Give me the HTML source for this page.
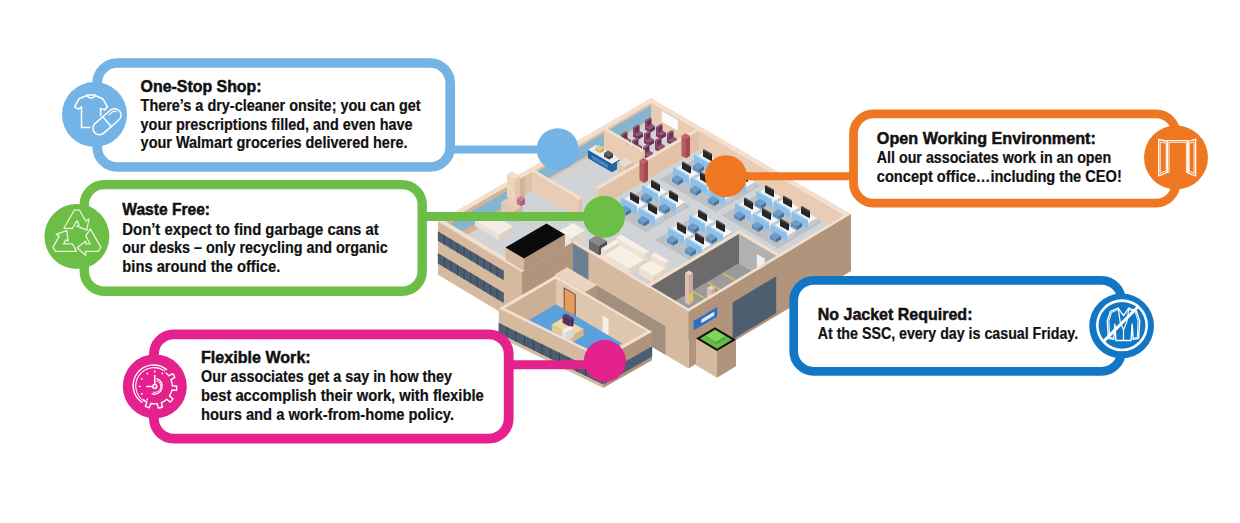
<!DOCTYPE html>
<html><head><meta charset="utf-8">
<style>
html,body{margin:0;padding:0;background:#fff;width:1240px;height:523px;overflow:hidden}
svg{position:absolute;left:0;top:0}
text{font-family:"Liberation Sans",sans-serif;font-weight:bold;fill:#111}
.t{font-size:17px;stroke:#111;stroke-width:0.5px}
.b{font-size:15.6px;stroke:#111;stroke-width:0.2px}
</style></head><body>
<svg width="1240" height="523" viewBox="0 0 1240 523">
<g id="building">
<polygon points="651.0,117.0 851.0,233.0 688.5,330.5 488.5,211.2" fill="#d1d4d6"/>
<polygon points="521.0,192.4 605.0,242.2 522.0,291.0 438.0,240.5" fill="#d1d4d6"/>
<polygon points="651.0,102.6 525.0,175.8 525.0,194.8 651.0,121.6" fill="#e2c2a7"/>
<polygon points="651.0,105.5 607.0,131.0 607.0,144.3 651.0,118.8" fill="#86b5cf"/>
<polygon points="604.0,132.8 533.0,174.0 533.0,187.3 604.0,146.1" fill="#86b5cf"/>
<polygon points="525.0,175.8 442.0,223.9 442.0,249.6 525.0,201.4" fill="#d5b397"/>
<polygon points="513.0,187.5 447.0,225.8 447.0,240.0 513.0,201.7" fill="#86b5cf"/>
<polygon points="651.0,102.6 847.0,216.4 847.0,235.4 651.0,121.6" fill="#e9ccb3"/>
<polygon points="661.8,111.0 677.8,120.3 677.8,130.8 661.8,121.5" fill="#fbfbfb"/>
<polygon points="651.0,98.0 655.0,100.3 523.0,176.9 519.0,174.6" fill="#f3dfcc"/>
<polygon points="521.0,173.4 525.0,175.8 442.0,223.9 438.0,221.5" fill="#f3dfcc"/>
<polygon points="651.0,98.0 851.0,214.0 847.0,216.4 647.0,100.3" fill="#f3dfcc"/>
<polygon points="655.0,126.0 650.0,128.9 650.0,132.7 655.0,129.8" fill="#6a2f52"/>
<polygon points="645.0,126.0 650.0,128.9 650.0,132.7 645.0,129.8" fill="#7d3a62"/>
<polygon points="650.0,123.1 655.0,126.0 650.0,128.9 645.0,126.0" fill="#93506f"/>
<polygon points="651.5,118.2 646.5,121.1 646.5,126.8 651.5,123.9" fill="#6a2f52"/>
<polygon points="645.0,120.3 646.5,121.1 646.5,126.8 645.0,126.0" fill="#7d3a62"/>
<polygon points="650.0,117.4 651.5,118.2 646.5,121.1 645.0,120.3" fill="#93506f"/>
<polygon points="643.0,132.9 638.0,135.9 638.0,139.7 643.0,136.7" fill="#6a2f52"/>
<polygon points="633.0,132.9 638.0,135.9 638.0,139.7 633.0,136.7" fill="#7d3a62"/>
<polygon points="638.0,130.0 643.0,132.9 638.0,135.9 633.0,132.9" fill="#93506f"/>
<polygon points="639.5,125.2 634.5,128.1 634.5,133.8 639.5,130.9" fill="#6a2f52"/>
<polygon points="633.0,127.2 634.5,128.1 634.5,133.8 633.0,132.9" fill="#7d3a62"/>
<polygon points="638.0,124.3 639.5,125.2 634.5,128.1 633.0,127.2" fill="#93506f"/>
<polygon points="631.0,139.9 626.0,142.8 626.0,146.6 631.0,143.7" fill="#6a2f52"/>
<polygon points="621.0,139.9 626.0,142.8 626.0,146.6 621.0,143.7" fill="#7d3a62"/>
<polygon points="626.0,137.0 631.0,139.9 626.0,142.8 621.0,139.9" fill="#93506f"/>
<polygon points="627.5,132.2 622.5,135.1 622.5,140.8 627.5,137.9" fill="#6a2f52"/>
<polygon points="621.0,134.2 622.5,135.1 622.5,140.8 621.0,139.9" fill="#7d3a62"/>
<polygon points="626.0,131.3 627.5,132.2 622.5,135.1 621.0,134.2" fill="#93506f"/>
<polygon points="666.0,132.4 661.0,135.3 661.0,139.1 666.0,136.2" fill="#6a2f52"/>
<polygon points="656.0,132.4 661.0,135.3 661.0,139.1 656.0,136.2" fill="#7d3a62"/>
<polygon points="661.0,129.5 666.0,132.4 661.0,135.3 656.0,132.4" fill="#93506f"/>
<polygon points="662.5,124.6 657.5,127.5 657.5,133.2 662.5,130.3" fill="#6a2f52"/>
<polygon points="656.0,126.7 657.5,127.5 657.5,133.2 656.0,132.4" fill="#7d3a62"/>
<polygon points="661.0,123.8 662.5,124.6 657.5,127.5 656.0,126.7" fill="#93506f"/>
<polygon points="654.0,139.4 649.0,142.3 649.0,146.1 654.0,143.2" fill="#6a2f52"/>
<polygon points="644.0,139.3 649.0,142.3 649.0,146.1 644.0,143.1" fill="#7d3a62"/>
<polygon points="649.0,136.4 654.0,139.4 649.0,142.3 644.0,139.3" fill="#93506f"/>
<polygon points="650.5,131.6 645.5,134.5 645.5,140.2 650.5,137.3" fill="#6a2f52"/>
<polygon points="644.0,133.6 645.5,134.5 645.5,140.2 644.0,139.3" fill="#7d3a62"/>
<polygon points="649.0,130.7 650.5,131.6 645.5,134.5 644.0,133.6" fill="#93506f"/>
<polygon points="642.0,146.3 637.0,149.3 637.0,153.1 642.0,150.1" fill="#6a2f52"/>
<polygon points="632.0,146.3 637.0,149.3 637.0,153.1 632.0,150.1" fill="#7d3a62"/>
<polygon points="637.0,143.4 642.0,146.3 637.0,149.3 632.0,146.3" fill="#93506f"/>
<polygon points="638.5,138.6 633.5,141.5 633.5,147.2 638.5,144.3" fill="#6a2f52"/>
<polygon points="632.0,140.6 633.5,141.5 633.5,147.2 632.0,146.3" fill="#7d3a62"/>
<polygon points="637.0,137.7 638.5,138.6 633.5,141.5 632.0,140.6" fill="#93506f"/>
<polygon points="677.0,138.8 672.0,141.7 672.0,145.5 677.0,142.6" fill="#6a2f52"/>
<polygon points="667.0,138.8 672.0,141.7 672.0,145.5 667.0,142.6" fill="#7d3a62"/>
<polygon points="672.0,135.8 677.0,138.8 672.0,141.7 667.0,138.8" fill="#93506f"/>
<polygon points="673.5,131.0 668.5,133.9 668.5,139.6 673.5,136.7" fill="#6a2f52"/>
<polygon points="667.0,133.1 668.5,133.9 668.5,139.6 667.0,138.8" fill="#7d3a62"/>
<polygon points="672.0,130.1 673.5,131.0 668.5,133.9 667.0,133.1" fill="#93506f"/>
<polygon points="665.0,145.8 660.0,148.7 660.0,152.5 665.0,149.6" fill="#6a2f52"/>
<polygon points="655.0,145.8 660.0,148.7 660.0,152.5 655.0,149.6" fill="#7d3a62"/>
<polygon points="660.0,142.8 665.0,145.8 660.0,148.7 655.0,145.8" fill="#93506f"/>
<polygon points="661.5,138.0 656.5,140.9 656.5,146.6 661.5,143.7" fill="#6a2f52"/>
<polygon points="655.0,140.1 656.5,140.9 656.5,146.6 655.0,145.8" fill="#7d3a62"/>
<polygon points="660.0,137.1 661.5,138.0 656.5,140.9 655.0,140.1" fill="#93506f"/>
<polygon points="653.0,152.8 648.0,155.7 648.0,159.5 653.0,156.6" fill="#6a2f52"/>
<polygon points="643.0,152.8 648.0,155.7 648.0,159.5 643.0,156.6" fill="#7d3a62"/>
<polygon points="648.0,149.8 653.0,152.8 648.0,155.7 643.0,152.8" fill="#93506f"/>
<polygon points="649.5,145.0 644.5,147.9 644.5,153.6 649.5,150.7" fill="#6a2f52"/>
<polygon points="643.0,147.1 644.5,147.9 644.5,153.6 643.0,152.8" fill="#7d3a62"/>
<polygon points="648.0,144.1 649.5,145.0 644.5,147.9 643.0,147.1" fill="#93506f"/>
<polygon points="645.0,150.4 642.0,152.2 642.0,171.2 645.0,169.4" fill="#e2c2a7"/>
<polygon points="604.0,129.9 642.0,152.2 642.0,171.2 604.0,148.9" fill="#e9ccb3"/>
<polygon points="607.0,128.2 645.0,150.4 642.0,152.2 604.0,129.9" fill="#f3dfcc"/>
<polygon points="620.0,159.1 612.0,163.7 612.0,172.3 620.0,167.6" fill="#2a63a3"/>
<polygon points="588.0,149.7 612.0,163.7 612.0,172.3 588.0,158.2" fill="#23609f"/>
<polygon points="596.0,145.0 620.0,159.1 612.0,163.7 588.0,149.7" fill="#e9eef2"/>
<polygon points="596.0,145.0 620.0,159.1 617.0,160.8 593.0,146.8" fill="#f5f0e6"/>
<polygon points="604.0,148.0 600.0,150.3 600.0,153.2 604.0,150.9" fill="#c9a66b"/>
<polygon points="595.0,147.4 600.0,150.3 600.0,153.2 595.0,150.3" fill="#d8b77c"/>
<polygon points="599.0,145.1 604.0,148.0 600.0,150.3 595.0,147.4" fill="#e8c98f"/>
<polygon points="613.0,153.5 609.0,155.8 609.0,159.6 613.0,157.3" fill="#3a3a3a"/>
<polygon points="604.0,152.9 609.0,155.8 609.0,159.6 604.0,156.7" fill="#4a4a4a"/>
<polygon points="608.0,150.6 613.0,153.5 609.0,155.8 604.0,152.9" fill="#5a5a5a"/>
<polygon points="591.8,155.0 607.8,164.4 607.8,168.2 591.8,158.8" fill="#4d86c4"/>
<polygon points="633.0,162.2 625.0,166.9 625.0,176.4 633.0,171.7" fill="#c9b9a8"/>
<polygon points="617.0,162.2 625.0,166.9 625.0,176.4 617.0,171.7" fill="#dccab7"/>
<polygon points="625.0,157.5 633.0,162.2 625.0,166.9 617.0,162.2" fill="#e8dccd"/>
<polygon points="699.0,130.5 598.0,189.6 598.0,208.6 699.0,149.5" fill="#e2c2a7"/>
<polygon points="595.0,187.8 598.0,189.6 598.0,208.6 595.0,206.8" fill="#e9ccb3"/>
<polygon points="696.0,128.8 699.0,130.5 598.0,189.6 595.0,187.8" fill="#f3dfcc"/>
<polygon points="690.0,136.0 686.0,138.3 686.0,158.3 690.0,155.9" fill="#a24a4e"/>
<polygon points="681.5,135.7 686.0,138.3 686.0,158.3 681.5,155.7" fill="#b95b5e"/>
<polygon points="685.5,133.4 690.0,136.0 686.0,138.3 681.5,135.7" fill="#c05f62"/>
<polygon points="648.0,160.6 644.0,162.9 644.0,182.9 648.0,180.5" fill="#a24a4e"/>
<polygon points="639.5,160.3 644.0,162.9 644.0,182.9 639.5,180.2" fill="#b95b5e"/>
<polygon points="643.5,157.9 648.0,160.6 644.0,162.9 639.5,160.3" fill="#c05f62"/>
<polygon points="582.0,197.8 579.0,199.5 579.0,218.5 582.0,216.8" fill="#e2c2a7"/>
<polygon points="532.0,171.7 579.0,199.5 579.0,218.5 532.0,190.7" fill="#e9ccb3"/>
<polygon points="535.0,170.0 582.0,197.8 579.0,199.5 532.0,171.7" fill="#f3dfcc"/>
<polygon points="520.0,176.0 515.0,179.0 515.0,201.8 520.0,198.8" fill="#e3c5ab"/>
<polygon points="507.0,174.2 515.0,179.0 515.0,201.8 507.0,197.0" fill="#efd4bd"/>
<polygon points="512.0,171.3 520.0,176.0 515.0,179.0 507.0,174.2" fill="#f1ddc9"/>
<polygon points="523.0,205.7 515.0,210.3 515.0,221.7 523.0,217.1" fill="#d4b69b"/>
<polygon points="501.0,202.0 515.0,210.3 515.0,221.7 501.0,213.4" fill="#e2c6ad"/>
<polygon points="509.0,197.4 523.0,205.7 515.0,210.3 501.0,202.0" fill="#e6cdb6"/>
<polygon points="525.0,198.4 521.0,200.7 521.0,206.4 525.0,204.1" fill="#b05f7f"/>
<polygon points="517.0,198.3 521.0,200.7 521.0,206.4 517.0,204.0" fill="#c06a8a"/>
<polygon points="521.0,196.0 525.0,198.4 521.0,200.7 517.0,198.3" fill="#d07a98"/>
<polygon points="513.0,226.6 499.0,234.8 499.0,240.5 513.0,232.3" fill="#e0d0bf"/>
<polygon points="475.0,220.4 499.0,234.8 499.0,240.5 475.0,226.1" fill="#ece0d2"/>
<polygon points="489.0,212.3 513.0,226.6 499.0,234.8 475.0,220.4" fill="#f6eee4"/>
<polygon points="704.0,153.6 760.0,186.1 716.0,212.1 660.0,179.3" fill="#bcc1c6"/>
<polygon points="719.0,161.0 710.0,166.3 710.0,171.1 719.0,165.8" fill="#c3cad0"/>
<polygon points="695.0,157.6 710.0,166.3 710.0,171.1 695.0,162.3" fill="#dde2e6"/>
<polygon points="704.0,152.3 719.0,161.0 710.0,166.3 695.0,157.6" fill="#f3f5f6"/>
<polygon points="712.0,153.8 711.0,154.4 711.0,161.1 712.0,160.5" fill="#1b1b1b"/>
<polygon points="703.0,149.8 711.0,154.4 711.0,161.1 703.0,156.4" fill="#262626"/>
<polygon points="704.0,149.2 712.0,153.8 711.0,154.4 703.0,149.8" fill="#3a3a3a"/>
<polygon points="710.0,162.5 709.0,163.1 709.0,171.7 710.0,171.1" fill="#92c0e4"/>
<polygon points="694.0,154.4 709.0,163.1 709.0,171.7 694.0,162.9" fill="#8cc0ea"/>
<polygon points="695.0,153.8 710.0,162.5 709.0,163.1 694.0,154.4" fill="#b8daf2"/>
<polygon points="704.0,166.1 699.0,169.1 699.0,172.9 704.0,169.9" fill="#47739c"/>
<polygon points="693.0,165.6 699.0,169.1 699.0,172.9 693.0,169.4" fill="#5f90c2"/>
<polygon points="698.0,162.6 704.0,166.1 699.0,169.1 693.0,165.6" fill="#6f9cc6"/>
<polygon points="737.0,171.5 728.0,176.8 728.0,181.5 737.0,176.2" fill="#c3cad0"/>
<polygon points="713.0,168.1 728.0,176.8 728.0,181.5 713.0,172.8" fill="#dde2e6"/>
<polygon points="722.0,162.8 737.0,171.5 728.0,176.8 713.0,168.1" fill="#f3f5f6"/>
<polygon points="730.0,164.3 729.0,164.9 729.0,171.5 730.0,170.9" fill="#1b1b1b"/>
<polygon points="721.0,160.2 729.0,164.9 729.0,171.5 721.0,166.9" fill="#262626"/>
<polygon points="722.0,159.6 730.0,164.3 729.0,164.9 721.0,160.2" fill="#3a3a3a"/>
<polygon points="728.0,173.0 727.0,173.6 727.0,182.1 728.0,181.5" fill="#92c0e4"/>
<polygon points="712.0,164.9 727.0,173.6 727.0,182.1 712.0,173.4" fill="#8cc0ea"/>
<polygon points="713.0,164.3 728.0,173.0 727.0,173.6 712.0,164.9" fill="#b8daf2"/>
<polygon points="722.0,176.6 717.0,179.5 717.0,183.3 722.0,180.4" fill="#47739c"/>
<polygon points="711.0,176.0 717.0,179.5 717.0,183.3 711.0,179.8" fill="#5f90c2"/>
<polygon points="716.0,173.1 722.0,176.6 717.0,179.5 711.0,176.0" fill="#6f9cc6"/>
<polygon points="755.0,181.9 746.0,187.3 746.0,192.0 755.0,186.7" fill="#c3cad0"/>
<polygon points="731.0,178.5 746.0,187.3 746.0,192.0 731.0,183.3" fill="#dde2e6"/>
<polygon points="740.0,173.2 755.0,181.9 746.0,187.3 731.0,178.5" fill="#f3f5f6"/>
<polygon points="748.0,174.7 747.0,175.3 747.0,182.0 748.0,181.4" fill="#1b1b1b"/>
<polygon points="739.0,170.7 747.0,175.3 747.0,182.0 739.0,177.3" fill="#262626"/>
<polygon points="740.0,170.1 748.0,174.7 747.0,175.3 739.0,170.7" fill="#3a3a3a"/>
<polygon points="746.0,183.5 745.0,184.1 745.0,192.6 746.0,192.0" fill="#92c0e4"/>
<polygon points="730.0,175.3 745.0,184.1 745.0,192.6 730.0,183.9" fill="#8cc0ea"/>
<polygon points="731.0,174.7 746.0,183.5 745.0,184.1 730.0,175.3" fill="#b8daf2"/>
<polygon points="740.0,187.1 735.0,190.0 735.0,193.8 740.0,190.9" fill="#47739c"/>
<polygon points="729.0,186.5 735.0,190.0 735.0,193.8 729.0,190.3" fill="#5f90c2"/>
<polygon points="734.0,183.6 740.0,187.1 735.0,190.0 729.0,186.5" fill="#6f9cc6"/>
<polygon points="698.0,173.4 689.0,178.7 689.0,183.4 698.0,178.1" fill="#c3cad0"/>
<polygon points="674.0,169.9 689.0,178.7 689.0,183.4 674.0,174.7" fill="#dde2e6"/>
<polygon points="683.0,164.6 698.0,173.4 689.0,178.7 674.0,169.9" fill="#f3f5f6"/>
<polygon points="691.0,166.2 690.0,166.7 690.0,173.4 691.0,172.8" fill="#1b1b1b"/>
<polygon points="682.0,162.1 690.0,166.7 690.0,173.4 682.0,168.7" fill="#262626"/>
<polygon points="683.0,161.5 691.0,166.2 690.0,166.7 682.0,162.1" fill="#3a3a3a"/>
<polygon points="689.0,174.9 688.0,175.4 688.0,184.0 689.0,183.4" fill="#92c0e4"/>
<polygon points="673.0,166.7 688.0,175.4 688.0,184.0 673.0,175.2" fill="#8cc0ea"/>
<polygon points="674.0,166.1 689.0,174.9 688.0,175.4 673.0,166.7" fill="#b8daf2"/>
<polygon points="683.0,178.4 678.0,181.4 678.0,185.2 683.0,182.2" fill="#47739c"/>
<polygon points="672.0,177.9 678.0,181.4 678.0,185.2 672.0,181.7" fill="#5f90c2"/>
<polygon points="677.0,174.9 683.0,178.4 678.0,181.4 672.0,177.9" fill="#6f9cc6"/>
<polygon points="716.0,183.9 707.0,189.2 707.0,193.9 716.0,188.6" fill="#c3cad0"/>
<polygon points="692.0,180.4 707.0,189.2 707.0,193.9 692.0,185.2" fill="#dde2e6"/>
<polygon points="701.0,175.1 716.0,183.9 707.0,189.2 692.0,180.4" fill="#f3f5f6"/>
<polygon points="709.0,176.6 708.0,177.2 708.0,183.9 709.0,183.3" fill="#1b1b1b"/>
<polygon points="700.0,172.6 708.0,177.2 708.0,183.9 700.0,179.2" fill="#262626"/>
<polygon points="701.0,172.0 709.0,176.6 708.0,177.2 700.0,172.6" fill="#3a3a3a"/>
<polygon points="707.0,185.4 706.0,186.0 706.0,194.5 707.0,193.9" fill="#92c0e4"/>
<polygon points="691.0,177.2 706.0,186.0 706.0,194.5 691.0,185.7" fill="#8cc0ea"/>
<polygon points="692.0,176.6 707.0,185.4 706.0,186.0 691.0,177.2" fill="#b8daf2"/>
<polygon points="701.0,189.0 696.0,191.9 696.0,195.7 701.0,192.8" fill="#47739c"/>
<polygon points="690.0,188.4 696.0,191.9 696.0,195.7 690.0,192.2" fill="#5f90c2"/>
<polygon points="695.0,185.5 701.0,189.0 696.0,191.9 690.0,188.4" fill="#6f9cc6"/>
<polygon points="734.0,194.4 725.0,199.7 725.0,204.4 734.0,199.1" fill="#c3cad0"/>
<polygon points="710.0,190.9 725.0,199.7 725.0,204.4 710.0,195.7" fill="#dde2e6"/>
<polygon points="719.0,185.6 734.0,194.4 725.0,199.7 710.0,190.9" fill="#f3f5f6"/>
<polygon points="727.0,187.1 726.0,187.7 726.0,194.4 727.0,193.8" fill="#1b1b1b"/>
<polygon points="718.0,183.1 726.0,187.7 726.0,194.4 718.0,189.7" fill="#262626"/>
<polygon points="719.0,182.5 727.0,187.1 726.0,187.7 718.0,183.1" fill="#3a3a3a"/>
<polygon points="725.0,195.9 724.0,196.5 724.0,205.0 725.0,204.4" fill="#92c0e4"/>
<polygon points="709.0,187.7 724.0,196.5 724.0,205.0 709.0,196.3" fill="#8cc0ea"/>
<polygon points="710.0,187.1 725.0,195.9 724.0,196.5 709.0,187.7" fill="#b8daf2"/>
<polygon points="719.0,199.5 714.0,202.4 714.0,206.2 719.0,203.3" fill="#47739c"/>
<polygon points="708.0,198.9 714.0,202.4 714.0,206.2 708.0,202.7" fill="#5f90c2"/>
<polygon points="713.0,196.0 719.0,199.5 714.0,202.4 708.0,198.9" fill="#6f9cc6"/>
<polygon points="766.0,189.6 822.0,222.1 778.0,248.4 722.0,215.6" fill="#bcc1c6"/>
<polygon points="781.0,197.0 772.0,202.4 772.0,207.1 781.0,201.8" fill="#c3cad0"/>
<polygon points="757.0,193.7 772.0,202.4 772.0,207.1 757.0,198.4" fill="#dde2e6"/>
<polygon points="766.0,188.3 781.0,197.0 772.0,202.4 757.0,193.7" fill="#f3f5f6"/>
<polygon points="774.0,189.8 773.0,190.4 773.0,197.1 774.0,196.5" fill="#1b1b1b"/>
<polygon points="765.0,185.8 773.0,190.4 773.0,197.1 765.0,192.4" fill="#262626"/>
<polygon points="766.0,185.2 774.0,189.8 773.0,190.4 765.0,185.8" fill="#3a3a3a"/>
<polygon points="772.0,198.6 771.0,199.2 771.0,207.7 772.0,207.1" fill="#92c0e4"/>
<polygon points="756.0,190.5 771.0,199.2 771.0,207.7 756.0,199.0" fill="#8cc0ea"/>
<polygon points="757.0,189.9 772.0,198.6 771.0,199.2 756.0,190.5" fill="#b8daf2"/>
<polygon points="766.0,202.2 761.0,205.2 761.0,209.0 766.0,206.0" fill="#47739c"/>
<polygon points="755.0,201.7 761.0,205.2 761.0,209.0 755.0,205.5" fill="#5f90c2"/>
<polygon points="760.0,198.7 766.0,202.2 761.0,205.2 755.0,201.7" fill="#6f9cc6"/>
<polygon points="799.0,207.5 790.0,212.9 790.0,217.6 799.0,212.2" fill="#c3cad0"/>
<polygon points="775.0,204.1 790.0,212.9 790.0,217.6 775.0,208.9" fill="#dde2e6"/>
<polygon points="784.0,198.8 799.0,207.5 790.0,212.9 775.0,204.1" fill="#f3f5f6"/>
<polygon points="792.0,200.3 791.0,200.9 791.0,207.6 792.0,207.0" fill="#1b1b1b"/>
<polygon points="783.0,196.3 791.0,200.9 791.0,207.6 783.0,202.9" fill="#262626"/>
<polygon points="784.0,195.7 792.0,200.3 791.0,200.9 783.0,196.3" fill="#3a3a3a"/>
<polygon points="790.0,209.1 789.0,209.7 789.0,218.2 790.0,217.6" fill="#92c0e4"/>
<polygon points="774.0,200.9 789.0,209.7 789.0,218.2 774.0,209.5" fill="#8cc0ea"/>
<polygon points="775.0,200.3 790.0,209.1 789.0,209.7 774.0,200.9" fill="#b8daf2"/>
<polygon points="784.0,212.7 779.0,215.6 779.0,219.4 784.0,216.5" fill="#47739c"/>
<polygon points="773.0,212.2 779.0,215.6 779.0,219.4 773.0,216.0" fill="#5f90c2"/>
<polygon points="778.0,209.2 784.0,212.7 779.0,215.6 773.0,212.2" fill="#6f9cc6"/>
<polygon points="817.0,217.9 808.0,223.3 808.0,228.1 817.0,222.7" fill="#c3cad0"/>
<polygon points="793.0,214.6 808.0,223.3 808.0,228.1 793.0,219.4" fill="#dde2e6"/>
<polygon points="802.0,209.2 817.0,217.9 808.0,223.3 793.0,214.6" fill="#f3f5f6"/>
<polygon points="810.0,210.8 809.0,211.4 809.0,218.0 810.0,217.4" fill="#1b1b1b"/>
<polygon points="801.0,206.7 809.0,211.4 809.0,218.0 801.0,213.4" fill="#262626"/>
<polygon points="802.0,206.1 810.0,210.8 809.0,211.4 801.0,206.7" fill="#3a3a3a"/>
<polygon points="808.0,219.5 807.0,220.1 807.0,228.7 808.0,228.1" fill="#92c0e4"/>
<polygon points="792.0,211.4 807.0,220.1 807.0,228.7 792.0,219.9" fill="#8cc0ea"/>
<polygon points="793.0,210.8 808.0,219.5 807.0,220.1 792.0,211.4" fill="#b8daf2"/>
<polygon points="802.0,223.1 797.0,226.1 797.0,229.9 802.0,226.9" fill="#47739c"/>
<polygon points="791.0,222.6 797.0,226.1 797.0,229.9 791.0,226.4" fill="#5f90c2"/>
<polygon points="796.0,219.7 802.0,223.1 797.0,226.1 791.0,222.6" fill="#6f9cc6"/>
<polygon points="760.0,209.5 751.0,214.9 751.0,219.6 760.0,214.3" fill="#c3cad0"/>
<polygon points="736.0,206.1 751.0,214.9 751.0,219.6 736.0,210.8" fill="#dde2e6"/>
<polygon points="745.0,200.8 760.0,209.5 751.0,214.9 736.0,206.1" fill="#f3f5f6"/>
<polygon points="753.0,202.3 752.0,202.9 752.0,209.6 753.0,209.0" fill="#1b1b1b"/>
<polygon points="744.0,198.2 752.0,202.9 752.0,209.6 744.0,204.9" fill="#262626"/>
<polygon points="745.0,197.6 753.0,202.3 752.0,202.9 744.0,198.2" fill="#3a3a3a"/>
<polygon points="751.0,211.1 750.0,211.6 750.0,220.2 751.0,219.6" fill="#92c0e4"/>
<polygon points="735.0,202.9 750.0,211.6 750.0,220.2 735.0,211.4" fill="#8cc0ea"/>
<polygon points="736.0,202.3 751.0,211.1 750.0,211.6 735.0,202.9" fill="#b8daf2"/>
<polygon points="745.0,214.7 740.0,217.6 740.0,221.4 745.0,218.5" fill="#47739c"/>
<polygon points="734.0,214.1 740.0,217.6 740.0,221.4 734.0,217.9" fill="#5f90c2"/>
<polygon points="739.0,211.2 745.0,214.7 740.0,217.6 734.0,214.1" fill="#6f9cc6"/>
<polygon points="778.0,220.0 769.0,225.4 769.0,230.1 778.0,224.8" fill="#c3cad0"/>
<polygon points="754.0,216.6 769.0,225.4 769.0,230.1 754.0,221.4" fill="#dde2e6"/>
<polygon points="763.0,211.3 778.0,220.0 769.0,225.4 754.0,216.6" fill="#f3f5f6"/>
<polygon points="771.0,212.8 770.0,213.4 770.0,220.1 771.0,219.5" fill="#1b1b1b"/>
<polygon points="762.0,208.7 770.0,213.4 770.0,220.1 762.0,215.4" fill="#262626"/>
<polygon points="763.0,208.1 771.0,212.8 770.0,213.4 762.0,208.7" fill="#3a3a3a"/>
<polygon points="769.0,221.6 768.0,222.2 768.0,230.7 769.0,230.1" fill="#92c0e4"/>
<polygon points="753.0,213.4 768.0,222.2 768.0,230.7 753.0,221.9" fill="#8cc0ea"/>
<polygon points="754.0,212.8 769.0,221.6 768.0,222.2 753.0,213.4" fill="#b8daf2"/>
<polygon points="763.0,225.2 758.0,228.1 758.0,231.9 763.0,229.0" fill="#47739c"/>
<polygon points="752.0,224.6 758.0,228.1 758.0,231.9 752.0,228.4" fill="#5f90c2"/>
<polygon points="757.0,221.7 763.0,225.2 758.0,228.1 752.0,224.6" fill="#6f9cc6"/>
<polygon points="796.0,230.5 787.0,235.9 787.0,240.6 796.0,235.2" fill="#c3cad0"/>
<polygon points="772.0,227.1 787.0,235.9 787.0,240.6 772.0,231.9" fill="#dde2e6"/>
<polygon points="781.0,221.8 796.0,230.5 787.0,235.9 772.0,227.1" fill="#f3f5f6"/>
<polygon points="789.0,223.3 788.0,223.9 788.0,230.6 789.0,230.0" fill="#1b1b1b"/>
<polygon points="780.0,219.2 788.0,223.9 788.0,230.6 780.0,225.9" fill="#262626"/>
<polygon points="781.0,218.6 789.0,223.3 788.0,223.9 780.0,219.2" fill="#3a3a3a"/>
<polygon points="787.0,232.1 786.0,232.7 786.0,241.2 787.0,240.6" fill="#92c0e4"/>
<polygon points="771.0,223.9 786.0,232.7 786.0,241.2 771.0,232.5" fill="#8cc0ea"/>
<polygon points="772.0,223.3 787.0,232.1 786.0,232.7 771.0,223.9" fill="#b8daf2"/>
<polygon points="781.0,235.7 776.0,238.7 776.0,242.5 781.0,239.5" fill="#47739c"/>
<polygon points="770.0,235.2 776.0,238.7 776.0,242.5 770.0,239.0" fill="#5f90c2"/>
<polygon points="775.0,232.2 781.0,235.7 776.0,238.7 770.0,235.2" fill="#6f9cc6"/>
<polygon points="652.0,184.0 690.0,206.3 646.0,232.2 608.0,209.8" fill="#bcc1c6"/>
<polygon points="667.0,191.6 658.0,196.9 658.0,201.6 667.0,196.3" fill="#c3cad0"/>
<polygon points="643.0,188.1 658.0,196.9 658.0,201.6 643.0,192.8" fill="#dde2e6"/>
<polygon points="652.0,182.8 667.0,191.6 658.0,196.9 643.0,188.1" fill="#f3f5f6"/>
<polygon points="660.0,184.4 659.0,184.9 659.0,191.6 660.0,191.0" fill="#1b1b1b"/>
<polygon points="651.0,180.2 659.0,184.9 659.0,191.6 651.0,186.9" fill="#262626"/>
<polygon points="652.0,179.7 660.0,184.4 659.0,184.9 651.0,180.2" fill="#3a3a3a"/>
<polygon points="658.0,193.1 657.0,193.7 657.0,202.2 658.0,201.6" fill="#92c0e4"/>
<polygon points="642.0,184.9 657.0,193.7 657.0,202.2 642.0,193.4" fill="#8cc0ea"/>
<polygon points="643.0,184.3 658.0,193.1 657.0,193.7 642.0,184.9" fill="#b8daf2"/>
<polygon points="652.0,196.7 647.0,199.6 647.0,203.4 652.0,200.5" fill="#47739c"/>
<polygon points="641.0,196.1 647.0,199.6 647.0,203.4 641.0,199.9" fill="#5f90c2"/>
<polygon points="646.0,193.1 652.0,196.7 647.0,199.6 641.0,196.1" fill="#6f9cc6"/>
<polygon points="685.0,202.1 676.0,207.4 676.0,212.2 685.0,206.9" fill="#c3cad0"/>
<polygon points="661.0,198.6 676.0,207.4 676.0,212.2 661.0,203.4" fill="#dde2e6"/>
<polygon points="670.0,193.3 685.0,202.1 676.0,207.4 661.0,198.6" fill="#f3f5f6"/>
<polygon points="678.0,194.9 677.0,195.5 677.0,202.1 678.0,201.6" fill="#1b1b1b"/>
<polygon points="669.0,190.8 677.0,195.5 677.0,202.1 669.0,197.5" fill="#262626"/>
<polygon points="670.0,190.2 678.0,194.9 677.0,195.5 669.0,190.8" fill="#3a3a3a"/>
<polygon points="676.0,203.6 675.0,204.2 675.0,212.8 676.0,212.2" fill="#92c0e4"/>
<polygon points="660.0,195.4 675.0,204.2 675.0,212.8 660.0,204.0" fill="#8cc0ea"/>
<polygon points="661.0,194.8 676.0,203.6 675.0,204.2 660.0,195.4" fill="#b8daf2"/>
<polygon points="670.0,207.2 665.0,210.2 665.0,214.0 670.0,211.0" fill="#47739c"/>
<polygon points="659.0,206.6 665.0,210.2 665.0,214.0 659.0,210.4" fill="#5f90c2"/>
<polygon points="664.0,203.7 670.0,207.2 665.0,210.2 659.0,206.6" fill="#6f9cc6"/>
<polygon points="646.0,203.9 637.0,209.2 637.0,214.0 646.0,208.7" fill="#c3cad0"/>
<polygon points="622.0,200.4 637.0,209.2 637.0,214.0 622.0,205.1" fill="#dde2e6"/>
<polygon points="631.0,195.1 646.0,203.9 637.0,209.2 622.0,200.4" fill="#f3f5f6"/>
<polygon points="639.0,196.7 638.0,197.3 638.0,203.9 639.0,203.3" fill="#1b1b1b"/>
<polygon points="630.0,192.6 638.0,197.3 638.0,203.9 630.0,199.2" fill="#262626"/>
<polygon points="631.0,192.0 639.0,196.7 638.0,197.3 630.0,192.6" fill="#3a3a3a"/>
<polygon points="637.0,205.4 636.0,206.0 636.0,214.6 637.0,214.0" fill="#92c0e4"/>
<polygon points="621.0,197.2 636.0,206.0 636.0,214.6 621.0,205.7" fill="#8cc0ea"/>
<polygon points="622.0,196.6 637.0,205.4 636.0,206.0 621.0,197.2" fill="#b8daf2"/>
<polygon points="631.0,209.0 626.0,211.9 626.0,215.7 631.0,212.8" fill="#47739c"/>
<polygon points="620.0,208.4 626.0,211.9 626.0,215.7 620.0,212.2" fill="#5f90c2"/>
<polygon points="625.0,205.4 631.0,209.0 626.0,211.9 620.0,208.4" fill="#6f9cc6"/>
<polygon points="664.0,214.5 655.0,219.8 655.0,224.6 664.0,219.3" fill="#c3cad0"/>
<polygon points="640.0,211.0 655.0,219.8 655.0,224.6 640.0,215.7" fill="#dde2e6"/>
<polygon points="649.0,205.7 664.0,214.5 655.0,219.8 640.0,211.0" fill="#f3f5f6"/>
<polygon points="657.0,207.3 656.0,207.9 656.0,214.5 657.0,213.9" fill="#1b1b1b"/>
<polygon points="648.0,203.2 656.0,207.9 656.0,214.5 648.0,209.8" fill="#262626"/>
<polygon points="649.0,202.6 657.0,207.3 656.0,207.9 648.0,203.2" fill="#3a3a3a"/>
<polygon points="655.0,216.0 654.0,216.6 654.0,225.2 655.0,224.6" fill="#92c0e4"/>
<polygon points="639.0,207.8 654.0,216.6 654.0,225.2 639.0,216.3" fill="#8cc0ea"/>
<polygon points="640.0,207.2 655.0,216.0 654.0,216.6 639.0,207.8" fill="#b8daf2"/>
<polygon points="649.0,219.6 644.0,222.5 644.0,226.3 649.0,223.4" fill="#47739c"/>
<polygon points="638.0,219.0 644.0,222.5 644.0,226.3 638.0,222.8" fill="#5f90c2"/>
<polygon points="643.0,216.1 649.0,219.6 644.0,222.5 638.0,219.0" fill="#6f9cc6"/>
<polygon points="699.0,213.9 737.0,236.2 693.0,262.3 655.0,239.9" fill="#bcc1c6"/>
<polygon points="714.0,221.5 705.0,226.8 705.0,231.6 714.0,226.2" fill="#c3cad0"/>
<polygon points="690.0,218.0 705.0,226.8 705.0,231.6 690.0,222.8" fill="#dde2e6"/>
<polygon points="699.0,212.7 714.0,221.5 705.0,226.8 690.0,218.0" fill="#f3f5f6"/>
<polygon points="707.0,214.3 706.0,214.9 706.0,221.5 707.0,220.9" fill="#1b1b1b"/>
<polygon points="698.0,210.2 706.0,214.9 706.0,221.5 698.0,216.8" fill="#262626"/>
<polygon points="699.0,209.6 707.0,214.3 706.0,214.9 698.0,210.2" fill="#3a3a3a"/>
<polygon points="705.0,223.0 704.0,223.6 704.0,232.2 705.0,231.6" fill="#92c0e4"/>
<polygon points="689.0,214.8 704.0,223.6 704.0,232.2 689.0,223.4" fill="#8cc0ea"/>
<polygon points="690.0,214.2 705.0,223.0 704.0,223.6 689.0,214.8" fill="#b8daf2"/>
<polygon points="699.0,226.6 694.0,229.6 694.0,233.4 699.0,230.4" fill="#47739c"/>
<polygon points="688.0,226.0 694.0,229.6 694.0,233.4 688.0,229.8" fill="#5f90c2"/>
<polygon points="693.0,223.1 699.0,226.6 694.0,229.6 688.0,226.0" fill="#6f9cc6"/>
<polygon points="732.0,232.0 723.0,237.4 723.0,242.1 732.0,236.8" fill="#c3cad0"/>
<polygon points="708.0,228.6 723.0,237.4 723.0,242.1 708.0,233.3" fill="#dde2e6"/>
<polygon points="717.0,223.2 732.0,232.0 723.0,237.4 708.0,228.6" fill="#f3f5f6"/>
<polygon points="725.0,224.8 724.0,225.4 724.0,232.1 725.0,231.5" fill="#1b1b1b"/>
<polygon points="716.0,220.7 724.0,225.4 724.0,232.1 716.0,227.4" fill="#262626"/>
<polygon points="717.0,220.1 725.0,224.8 724.0,225.4 716.0,220.7" fill="#3a3a3a"/>
<polygon points="723.0,233.6 722.0,234.2 722.0,242.7 723.0,242.1" fill="#92c0e4"/>
<polygon points="707.0,225.4 722.0,234.2 722.0,242.7 707.0,233.9" fill="#8cc0ea"/>
<polygon points="708.0,224.8 723.0,233.6 722.0,234.2 707.0,225.4" fill="#b8daf2"/>
<polygon points="717.0,237.2 712.0,240.1 712.0,243.9 717.0,241.0" fill="#47739c"/>
<polygon points="706.0,236.6 712.0,240.1 712.0,243.9 706.0,240.4" fill="#5f90c2"/>
<polygon points="711.0,233.7 717.0,237.2 712.0,240.1 706.0,236.6" fill="#6f9cc6"/>
<polygon points="693.0,233.9 684.0,239.3 684.0,244.0 693.0,238.7" fill="#c3cad0"/>
<polygon points="669.0,230.4 684.0,239.3 684.0,244.0 669.0,235.2" fill="#dde2e6"/>
<polygon points="678.0,225.1 693.0,233.9 684.0,239.3 669.0,230.4" fill="#f3f5f6"/>
<polygon points="686.0,226.7 685.0,227.3 685.0,233.9 686.0,233.4" fill="#1b1b1b"/>
<polygon points="677.0,222.6 685.0,227.3 685.0,233.9 677.0,229.2" fill="#262626"/>
<polygon points="678.0,222.0 686.0,226.7 685.0,227.3 677.0,222.6" fill="#3a3a3a"/>
<polygon points="684.0,235.5 683.0,236.1 683.0,244.6 684.0,244.0" fill="#92c0e4"/>
<polygon points="668.0,227.2 683.0,236.1 683.0,244.6 668.0,235.8" fill="#8cc0ea"/>
<polygon points="669.0,226.6 684.0,235.5 683.0,236.1 668.0,227.2" fill="#b8daf2"/>
<polygon points="678.0,239.0 673.0,242.0 673.0,245.8 678.0,242.8" fill="#47739c"/>
<polygon points="667.0,238.5 673.0,242.0 673.0,245.8 667.0,242.3" fill="#5f90c2"/>
<polygon points="672.0,235.5 678.0,239.0 673.0,242.0 667.0,238.5" fill="#6f9cc6"/>
<polygon points="711.0,244.5 702.0,249.9 702.0,254.6 711.0,249.3" fill="#c3cad0"/>
<polygon points="687.0,241.0 702.0,249.9 702.0,254.6 687.0,245.8" fill="#dde2e6"/>
<polygon points="696.0,235.7 711.0,244.5 702.0,249.9 687.0,241.0" fill="#f3f5f6"/>
<polygon points="704.0,237.3 703.0,237.9 703.0,244.5 704.0,243.9" fill="#1b1b1b"/>
<polygon points="695.0,233.2 703.0,237.9 703.0,244.5 695.0,239.8" fill="#262626"/>
<polygon points="696.0,232.6 704.0,237.3 703.0,237.9 695.0,233.2" fill="#3a3a3a"/>
<polygon points="702.0,246.1 701.0,246.7 701.0,255.2 702.0,254.6" fill="#92c0e4"/>
<polygon points="686.0,237.8 701.0,246.7 701.0,255.2 686.0,246.4" fill="#8cc0ea"/>
<polygon points="687.0,237.2 702.0,246.1 701.0,246.7 686.0,237.8" fill="#b8daf2"/>
<polygon points="696.0,249.6 691.0,252.6 691.0,256.4 696.0,253.4" fill="#47739c"/>
<polygon points="685.0,249.1 691.0,252.6 691.0,256.4 685.0,252.9" fill="#5f90c2"/>
<polygon points="690.0,246.1 696.0,249.6 691.0,252.6 685.0,249.1" fill="#6f9cc6"/>
<polygon points="607.0,241.0 599.0,245.7 599.0,255.2 607.0,250.5" fill="#4e4b4a"/>
<polygon points="589.0,239.8 599.0,245.7 599.0,255.2 589.0,249.3" fill="#6d6a69"/>
<polygon points="597.0,235.1 607.0,241.0 599.0,245.7 589.0,239.8" fill="#8a8786"/>
<polygon points="649.0,256.9 629.0,268.8 629.0,275.4 649.0,263.6" fill="#e3d4c3"/>
<polygon points="601.0,252.1 629.0,268.8 629.0,275.4 601.0,258.8" fill="#eee1d2"/>
<polygon points="621.0,240.3 649.0,256.9 629.0,268.8 601.0,252.1" fill="#f7f0e6"/>
<polygon points="649.0,251.2 644.0,254.2 644.0,259.9 649.0,256.9" fill="#e3d4c3"/>
<polygon points="616.0,237.6 644.0,254.2 644.0,259.9 616.0,243.3" fill="#eee1d2"/>
<polygon points="621.0,234.6 649.0,251.2 644.0,254.2 616.0,237.6" fill="#f7f0e6"/>
<polygon points="620.0,241.8 605.0,250.7 605.0,254.5 620.0,245.6" fill="#e3d4c3"/>
<polygon points="601.0,248.3 605.0,250.7 605.0,254.5 601.0,252.1" fill="#eee1d2"/>
<polygon points="616.0,239.5 620.0,241.8 605.0,250.7 601.0,248.3" fill="#f7f0e6"/>
<polygon points="669.0,266.4 653.0,275.9 653.0,282.5 669.0,273.0" fill="#e3d4c3"/>
<polygon points="639.0,267.6 653.0,275.9 653.0,282.5 639.0,274.2" fill="#eee1d2"/>
<polygon points="655.0,258.1 669.0,266.4 653.0,275.9 639.0,267.6" fill="#f7f0e6"/>
<polygon points="669.0,260.7 665.0,263.1 665.0,268.8 669.0,266.4" fill="#e3d4c3"/>
<polygon points="651.0,254.8 665.0,263.1 665.0,268.8 651.0,260.5" fill="#eee1d2"/>
<polygon points="655.0,252.4 669.0,260.7 665.0,263.1 651.0,254.8" fill="#f7f0e6"/>
<polygon points="585.0,230.2 571.0,238.5 571.0,257.5 585.0,249.2" fill="#ddd2c6"/>
<polygon points="559.0,231.3 571.0,238.5 571.0,257.5 559.0,250.3" fill="#eee5db"/>
<polygon points="573.0,223.1 585.0,230.2 571.0,238.5 559.0,231.3" fill="#f6f0ea"/>
<polygon points="739.0,263.2 779.0,286.6 688.5,340.9 648.5,317.1" fill="#9b9b9b"/>
<polygon points="739.0,233.7 648.5,287.6 648.5,317.1 739.0,263.2" fill="#6b6b6b"/>
<polygon points="739.0,233.7 779.0,257.2 779.0,286.6 739.0,263.2" fill="#b3b1b0"/>
<polygon points="756.8,253.9 764.8,258.6 764.8,274.7 756.8,270.1" fill="#f0f0ee"/>
<polygon points="724.0,273.3 743.0,284.5 741.6,285.3 722.6,274.1" fill="#d8c650"/>
<polygon points="709.0,282.2 728.0,293.4 726.6,294.3 707.6,283.1" fill="#d8c650"/>
<polygon points="694.0,291.2 713.0,302.4 711.6,303.3 692.6,292.0" fill="#d8c650"/>
<polygon points="693.0,273.0 689.0,275.4 689.0,304.9 693.0,302.5" fill="#c8aaa0"/>
<polygon points="685.0,273.0 689.0,275.4 689.0,304.9 685.0,302.5" fill="#dcbdb2"/>
<polygon points="689.0,270.6 693.0,273.0 689.0,275.4 685.0,273.0" fill="#ecd3c8"/>
<polygon points="693.1,292.1 689.1,294.5 689.1,303.0 693.1,300.6" fill="#e9c64a"/>
<polygon points="715.0,287.9 711.0,290.3 711.0,298.9 715.0,296.5" fill="#c8aaa0"/>
<polygon points="707.0,287.9 711.0,290.3 711.0,298.9 707.0,296.5" fill="#dcbdb2"/>
<polygon points="711.0,285.5 715.0,287.9 711.0,290.3 707.0,287.9" fill="#ecd3c8"/>
<polygon points="736.0,232.0 739.0,233.7 648.5,287.6 645.5,285.9" fill="#f3dfcc"/>
<polygon points="739.0,230.2 782.0,255.4 779.0,257.2 736.0,232.0" fill="#f3dfcc"/>
<polygon points="851.0,214.0 688.5,311.5 688.5,368.5 851.0,271.0" fill="#b0957c"/>
<polygon points="572.5,242.3 688.5,311.5 688.5,368.5 572.5,299.3" fill="#d6baa0"/>
<polygon points="572.4,243.3 588.4,252.9 588.4,308.9 572.4,299.4" fill="#6b7f93"/>
<polygon points="848.5,212.6 851.0,214.0 688.5,311.5 686.0,310.0" fill="#f3dfcc"/>
<polygon points="575.0,240.9 691.0,310.0 688.5,311.5 572.5,242.3" fill="#f3dfcc"/>
<polygon points="588.4,280.4 665.4,326.3 665.4,354.8 588.4,308.9" fill="#a2907e"/>
<polygon points="776.2,276.2 732.6,302.4 732.6,339.4 776.2,313.3" fill="#4d5e6f"/>
<polygon points="717.2,306.9 693.6,321.0 693.6,330.5 717.2,316.4" fill="#2a6fc4"/>
<polygon points="714.3,311.6 701.3,319.4 701.3,323.2 714.3,315.4" fill="#dfe8f5"/>
<polygon points="572.5,242.3 522.0,272.0 522.0,325.2 572.5,295.5" fill="#b0957c"/>
<polygon points="438.0,221.5 522.0,272.0 522.0,325.2 438.0,274.7" fill="#d6baa0"/>
<polygon points="437.8,231.2 503.8,270.8 503.8,280.3 437.8,240.7" fill="#4b5d70"/>
<polygon points="437.8,253.0 503.8,292.7 503.8,303.1 437.8,263.5" fill="#4b5d70"/>
<polygon points="443.9,234.9 444.7,235.4 444.7,244.9 443.9,244.4" fill="#34404c"/>
<polygon points="443.9,256.8 444.7,257.3 444.7,267.7 443.9,267.2" fill="#34404c"/>
<polygon points="450.5,238.9 451.3,239.4 451.3,248.9 450.5,248.4" fill="#34404c"/>
<polygon points="450.5,260.8 451.3,261.2 451.3,271.7 450.5,271.2" fill="#34404c"/>
<polygon points="457.1,242.9 457.9,243.4 457.9,252.9 457.1,252.4" fill="#34404c"/>
<polygon points="457.1,264.7 457.9,265.2 457.9,275.7 457.1,275.2" fill="#34404c"/>
<polygon points="463.7,246.8 464.5,247.3 464.5,256.8 463.7,256.3" fill="#34404c"/>
<polygon points="463.7,268.7 464.5,269.2 464.5,279.6 463.7,279.1" fill="#34404c"/>
<polygon points="470.3,250.8 471.1,251.3 471.1,260.8 470.3,260.3" fill="#34404c"/>
<polygon points="470.3,272.7 471.1,273.1 471.1,283.6 470.3,283.1" fill="#34404c"/>
<polygon points="476.9,254.8 477.7,255.3 477.7,264.8 476.9,264.3" fill="#34404c"/>
<polygon points="476.9,276.6 477.7,277.1 477.7,287.6 476.9,287.1" fill="#34404c"/>
<polygon points="483.5,258.8 484.3,259.2 484.3,268.7 483.5,268.3" fill="#34404c"/>
<polygon points="483.5,280.6 484.3,281.1 484.3,291.5 483.5,291.1" fill="#34404c"/>
<polygon points="490.1,262.7 490.9,263.2 490.9,272.7 490.1,272.2" fill="#34404c"/>
<polygon points="490.1,284.6 490.9,285.1 490.9,295.5 490.1,295.0" fill="#34404c"/>
<polygon points="496.7,266.7 497.5,267.2 497.5,276.7 496.7,276.2" fill="#34404c"/>
<polygon points="496.7,288.5 497.5,289.0 497.5,299.5 496.7,299.0" fill="#34404c"/>
<polygon points="442.0,219.2 526.0,269.7 522.0,272.0 438.0,221.5" fill="#f3dfcc"/>
<polygon points="565.0,234.4 524.0,258.5 524.0,270.9 565.0,246.7" fill="#b0957c"/>
<polygon points="505.5,247.4 524.0,258.5 524.0,270.9 505.5,259.8" fill="#d6baa0"/>
<polygon points="546.5,223.4 565.0,234.4 524.0,258.5 505.5,247.4" fill="#0b0b0b"/>
<polygon points="597.0,285.1 585.0,292.2 585.0,321.6 597.0,314.5" fill="#b0957c"/>
<polygon points="555.0,274.3 585.0,292.2 585.0,321.6 555.0,303.7" fill="#d6baa0"/>
<polygon points="567.0,267.2 597.0,285.1 585.0,292.2 555.0,274.3" fill="#ead5c1"/>
<polygon points="556.0,304.3 646.4,357.2 602.6,382.2 505.0,333.9" fill="#5aa0dc"/>
<polygon points="622.6,343.2 646.4,357.2 602.6,382.2 576.8,369.5" fill="#d9c0a7"/>
<polygon points="556.0,278.7 505.0,308.2 505.0,333.9 556.0,304.3" fill="#ccb096"/>
<polygon points="556.0,278.7 646.4,331.5 646.4,357.2 556.0,304.3" fill="#dfc7ae"/>
<polygon points="563.7,287.2 575.7,294.2 575.7,316.1 563.7,309.1" fill="#7b3c48"/>
<polygon points="564.6,288.8 574.6,294.6 574.6,315.5 564.6,309.7" fill="#e39f58"/>
<polygon points="602.5,315.6 608.5,319.1 608.5,335.2 602.5,331.7" fill="#f4efe6"/>
<polygon points="583.6,329.0 572.4,335.5 572.4,342.2 583.6,335.7" fill="#d5b585"/>
<polygon points="551.7,324.4 572.4,335.5 572.4,342.2 551.7,331.1" fill="#e4c895"/>
<polygon points="563.3,317.7 583.6,329.0 572.4,335.5 551.7,324.4" fill="#f0d7a3"/>
<polygon points="573.6,318.0 570.8,319.6 570.8,327.2 573.6,325.6" fill="#45284f"/>
<polygon points="562.6,315.2 570.8,319.6 570.8,327.2 562.6,322.8" fill="#55305f"/>
<polygon points="565.5,313.5 573.6,318.0 570.8,319.6 562.6,315.2" fill="#5d3a67"/>
<polygon points="573.9,328.1 566.4,332.5 566.4,341.0 573.9,336.7" fill="#d8d8d8"/>
<polygon points="562.2,330.3 566.4,332.5 566.4,341.0 562.2,338.8" fill="#e6e6e6"/>
<polygon points="569.8,325.9 573.9,328.1 566.4,332.5 562.2,330.3" fill="#f2f2f2"/>
<polygon points="652.0,331.8 603.2,359.6 603.2,388.1 652.0,360.3" fill="#b0957c"/>
<polygon points="498.8,308.4 603.2,359.6 603.2,388.1 498.8,336.9" fill="#d6baa0"/>
<polygon points="498.6,322.8 603.0,373.9 603.0,384.4 498.6,333.2" fill="#4b5d70"/>
<polygon points="652.2,346.2 603.4,374.0 603.4,384.4 652.2,356.6" fill="#4b5d70"/>
<polygon points="506.8,326.9 507.6,327.3 507.6,337.8 506.8,337.3" fill="#34404c"/>
<polygon points="515.5,331.1 516.3,331.6 516.3,342.0 515.5,341.6" fill="#34404c"/>
<polygon points="524.2,335.4 525.0,335.8 525.0,346.3 524.2,345.9" fill="#34404c"/>
<polygon points="532.9,339.7 533.7,340.1 533.7,350.5 532.9,350.1" fill="#34404c"/>
<polygon points="541.6,343.9 542.4,344.4 542.4,354.8 541.6,354.4" fill="#34404c"/>
<polygon points="550.3,348.2 551.2,348.6 551.2,359.1 550.3,358.6" fill="#34404c"/>
<polygon points="559.0,352.5 559.9,352.9 559.9,363.3 559.0,362.9" fill="#34404c"/>
<polygon points="567.7,356.7 568.6,357.2 568.6,367.6 567.7,367.2" fill="#34404c"/>
<polygon points="576.4,361.0 577.3,361.4 577.3,371.9 576.4,371.4" fill="#34404c"/>
<polygon points="585.1,365.3 586.0,365.7 586.0,376.1 585.1,375.7" fill="#34404c"/>
<polygon points="593.8,369.5 594.7,369.9 594.7,380.4 593.8,380.0" fill="#34404c"/>
<polygon points="556.0,275.2 652.0,331.8 649.4,333.3 553.0,276.9" fill="#f3dfcc"/>
<polygon points="649.0,330.0 652.0,331.8 603.2,359.6 600.0,358.0" fill="#f3dfcc"/>
<polygon points="501.8,306.7 605.8,358.1 603.2,359.6 498.8,308.4" fill="#f3dfcc"/>
<polygon points="556.0,275.2 559.0,277.0 502.0,310.0 498.8,308.4" fill="#f3dfcc"/>
<polygon points="736.0,339.7 717.0,351.1 717.0,377.7 736.0,366.3" fill="#b0957c"/>
<polygon points="696.0,338.6 717.0,351.1 717.0,377.7 696.0,365.2" fill="#d6baa0"/>
<polygon points="715.0,327.2 736.0,339.7 717.0,351.1 696.0,338.6" fill="#111111"/>
<polygon points="715.0,329.6 732.0,339.7 717.0,348.7 700.0,338.6" fill="#66bd45"/>
<polygon points="725.0,336.3 716.0,341.7 716.0,344.5 725.0,339.1" fill="#4fa53a"/>
<polygon points="706.0,335.7 716.0,341.7 716.0,344.5 706.0,338.6" fill="#5fb545"/>
<polygon points="715.0,330.3 725.0,336.3 716.0,341.7 706.0,335.7" fill="#82d45c"/>
</g>
<!-- connectors -->
<g id="boxes">
 <!-- blue -->
 <rect x="97.2" y="63" width="353" height="104" rx="20" fill="#fff" stroke="#74b3e5" stroke-width="9.7"/>
 <path d="M450 149.6 H557" stroke="#74b3e5" stroke-width="8"/>
 <circle cx="557.6" cy="149.2" r="21" fill="#74b3e5"/>
 <circle cx="94.5" cy="114.5" r="32.5" fill="#74b3e5"/>
 <!-- green -->
 <rect x="84.3" y="184.6" width="337.9" height="106.6" rx="20" fill="#fff" stroke="#6dbe46" stroke-width="9.4"/>
 <path d="M422 216.5 H604" stroke="#6dbe46" stroke-width="9"/>
 <circle cx="604" cy="216.8" r="21" fill="#6dbe46"/>
 <circle cx="76.9" cy="236.4" r="32.5" fill="#6dbe46"/>
 <!-- pink -->
 <rect x="153.9" y="334.3" width="354.8" height="104.3" rx="20" fill="#fff" stroke="#e4218d" stroke-width="9.8"/>
 <path d="M508 364.8 H604" stroke="#e4218d" stroke-width="9"/>
 <circle cx="604.9" cy="360.8" r="21" fill="#e4218d"/>
 <circle cx="154.8" cy="386.4" r="32" fill="#e4218d"/>
 <!-- orange -->
 <rect x="853.5" y="113.9" width="322.5" height="89.2" rx="20" fill="#fff" stroke="#ef7722" stroke-width="8.8"/>
 <path d="M726 176.3 H853" stroke="#ef7722" stroke-width="8"/>
 <circle cx="725.9" cy="176.2" r="21" fill="#ef7722"/>
 <circle cx="1176" cy="157.5" r="32" fill="#ef7722"/>
 <!-- dark blue -->
 <rect x="793.7" y="280.4" width="327.8" height="90.9" rx="20" fill="#fff" stroke="#1177c4" stroke-width="8.7"/>
 <circle cx="1121.6" cy="326" r="32.4" fill="#1177c4"/>
</g>
<g id="icons" fill="none" stroke="#fff" stroke-linejoin="round" stroke-linecap="round">
 <g transform="translate(94.5,114.5)" stroke-width="1.5">
  <path d="M-7.6,-18.5 Q-3.4,-14.5 0.8,-18.5 M-7.6,-19.5 L0.8,-19.5" stroke-width="1.3"/>
  <path d="M-7.6,-19 L-15.3,-16 L-19.9,-7.6 L-16,-5.3 L-13,-7.6 L-13,13 L-4.6,13"/>
  <path d="M0.8,-19 L8.4,-15.5 L13,-7.6 L10,-4.6 L6.1,-6.1 L6.1,1"/>
  <g transform="translate(12.5,7.2) rotate(-41)">
   <rect x="-16.5" y="-6.5" width="33" height="13" rx="6.5"/>
   <path d="M0,-6.5 L0,6.5"/>
   <path d="M6,-3.8 L11,-3.8 Q13,-3.5 13.5,-1.5" stroke-width="1.1"/>
  </g>
 </g>
 <g transform="translate(76.9,236.2)" stroke-width="1.3" stroke="#e6f4dc">
  <path d="M-13.01,-7.96 L-2.50,-26.17 L2.50,-26.17 L8.82,-15.21 L12.07,-17.09 L9.83,-5.98 L-0.05,-10.09 L2.33,-11.46 L0.00,-15.50 L-4.52,-7.68 Z"/>
  <path d="M-13.01,-7.96 L-2.50,-26.17 L2.50,-26.17 L8.82,-15.21 L12.07,-17.09 L9.83,-5.98 L-0.05,-10.09 L2.33,-11.46 L0.00,-15.50 L-4.52,-7.68 Z" transform="rotate(120)"/>
  <path d="M-13.01,-7.96 L-2.50,-26.17 L2.50,-26.17 L8.82,-15.21 L12.07,-17.09 L9.83,-5.98 L-0.05,-10.09 L2.33,-11.46 L0.00,-15.50 L-4.52,-7.68 Z" transform="rotate(240)"/>
 </g>
 <g transform="translate(154.8,386.4)" stroke-width="1.4">
  <path d="M11.76,-16.79 A20.5,20.5 0 1 0 -12.90,15.93"/>
  <path d="M9.70,-15.52 A18.3,18.3 0 1 0 -10.50,14.99" stroke-width="1.1"/>
  <path d="M11.25,-13.41 A17.5,17.5 0 0 1 13.98,-10.53 L17.91,-12.78 A22,22 0 0 1 20.02,-9.12 L16.11,-6.84 A17.5,17.5 0 0 1 17.49,-0.61 L22.00,-0.19 A22,22 0 0 1 21.63,4.01 L17.12,3.64 A17.5,17.5 0 0 1 14.68,9.53 L18.13,12.46 A22,22 0 0 1 15.42,15.69 L11.93,12.80 A17.5,17.5 0 0 1 6.56,16.23 L7.70,20.61 A22,22 0 0 1 3.63,21.70 L2.44,17.33 A17.5,17.5 0 0 1 -3.94,17.05 L-5.51,21.30 A22,22 0 0 1 -9.47,19.86 L-7.94,15.59 A17.5,17.5 0 0 1 -11.25,13.41"/>
  <path d="M2.07,-7.73 A8,8 0 0 1 -2.74,7.52"/>
  <path d="M2.05,-5.64 A6,6 0 0 1 -1.55,5.80" stroke-width="1"/>
  <path d="M0,-11 L0,-2 M-8,0 L-2,0" stroke-width="1.5"/>
  <circle r="2"/>
  <path d="M0.00,-14.50 L0.00,-15.50 M-7.25,-12.56 L-7.75,-13.42 M-12.56,-7.25 L-13.42,-7.75 M-14.50,0.00 L-15.50,0.00 M-12.56,7.25 L-13.42,7.75 M-7.25,12.56 L-7.75,13.42 M7.25,-12.56 L7.75,-13.42 " stroke-width="1.3"/>
 </g>
 <g transform="translate(1176,157.5)" stroke-width="1.3">
  <path d="M-8.6,15 L-8.6,-16.8 L12,-16.8 L12,15"/>
  <path d="M-7,15 L-7,-15.2 L10.4,-15.2 L10.4,15" stroke-width="0.9"/>
  <path d="M-8.6,-16 L-17.3,-18.2 L-17.3,18.5 L-8.6,14.6 Z"/>
  <path d="M-10.2,-14.2 L-15.8,-15.6 L-15.8,15.8 L-10.2,13.4 Z" stroke-width="0.9"/>
  <path d="M12,-16 L19.6,-18.2 L19.6,18.5 L12,15.3 Z"/>
  <path d="M13.6,-14.2 L18.1,-15.6 L18.1,15.8 L13.6,13.8 Z" stroke-width="0.9"/>
 </g>
 <g transform="translate(1122,325.3)">
  <circle r="24.7" stroke-width="2.6"/>
  <path d="M-17.6,15.3 L15.8,-18.3" stroke-width="3"/>
  <g transform="translate(1.5,-1) scale(1.08)" stroke-width="1.3">
   <path d="M-5,-15 L-12,-12 L-15,-3 L-14,13 L-9,14 L-8,0 L-7,15 L7,15 L8,0 L9,14 L14,13 L15,-3 L12,-12 L5,-15 L0,-8 Z"/>
   <path d="M-4,-14 L-11,-11 L-13.5,-3 L-12.8,12 L-10,12.8 M4,-14 L11,-11 L13.5,-3 L12.8,12 L10,12.8" stroke-width="0.9"/>
   <path d="M-5,-15 L-3,-2 L0,5 M5,-15 L3,-2 L0,5 M0,5 L0,15" stroke-width="1.1"/>
  </g>
 </g>
</g>
<g id="text">
 <text class="t" x="140.6" y="91.8" textLength="121" lengthAdjust="spacingAndGlyphs">One-Stop Shop:</text>
 <text class="b" x="140.6" y="110.6" textLength="280" lengthAdjust="spacingAndGlyphs">There’s a dry-cleaner onsite; you can get</text>
 <text class="b" x="140.6" y="129.6" textLength="272" lengthAdjust="spacingAndGlyphs">your prescriptions filled, and even have</text>
 <text class="b" x="140.6" y="148.3" textLength="267" lengthAdjust="spacingAndGlyphs">your Walmart groceries delivered here.</text>

 <text class="t" x="122.3" y="214.8" textLength="87.7" lengthAdjust="spacingAndGlyphs">Waste Free:</text>
 <text class="b" x="122.3" y="234.6" textLength="256.4" lengthAdjust="spacingAndGlyphs">Don’t expect to find garbage cans at</text>
 <text class="b" x="122.3" y="253.2" textLength="265.5" lengthAdjust="spacingAndGlyphs">our desks – only recycling and organic</text>
 <text class="b" x="122.3" y="272" textLength="158" lengthAdjust="spacingAndGlyphs">bins around the office.</text>

 <text class="t" x="201" y="362.6" textLength="109.7" lengthAdjust="spacingAndGlyphs">Flexible Work:</text>
 <text class="b" x="201" y="382.1" textLength="251" lengthAdjust="spacingAndGlyphs">Our associates get a say in how they</text>
 <text class="b" x="201" y="401.1" textLength="282.7" lengthAdjust="spacingAndGlyphs">best accomplish their work, with flexible</text>
 <text class="b" x="201" y="420.4" textLength="253" lengthAdjust="spacingAndGlyphs">hours and a work-from-home policy.</text>

 <text class="t" x="876.8" y="144.1" textLength="219" lengthAdjust="spacingAndGlyphs">Open Working Environment:</text>
 <text class="b" x="876.8" y="162.8" textLength="234.4" lengthAdjust="spacingAndGlyphs">All our associates work in an open</text>
 <text class="b" x="876.8" y="182.1" textLength="245" lengthAdjust="spacingAndGlyphs">concept office…including the CEO!</text>

 <text class="t" x="817.7" y="320.3" textLength="154.8" lengthAdjust="spacingAndGlyphs">No Jacket Required:</text>
 <text class="b" x="817.7" y="339.1" textLength="260.5" lengthAdjust="spacingAndGlyphs">At the SSC, every day is casual Friday.</text>
</g>
</svg>
</body></html>
